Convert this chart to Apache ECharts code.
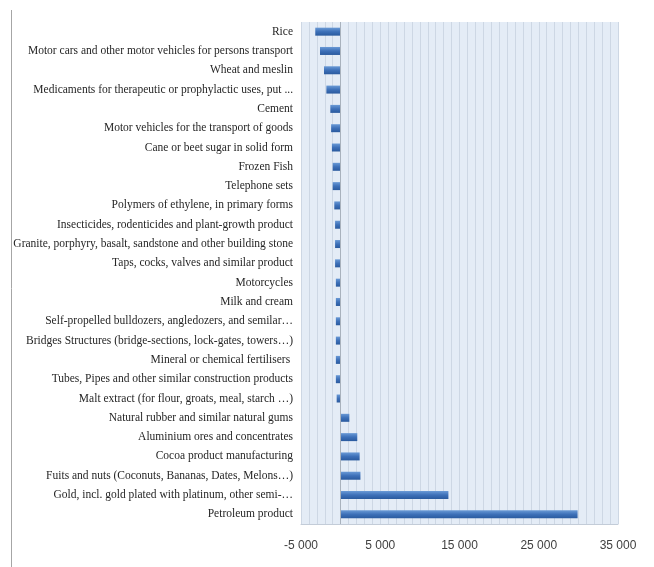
<!DOCTYPE html>
<html>
<head>
<meta charset="utf-8">
<script src="https://cdn.jsdelivr.net/npm/echarts@6/dist/echarts.min.js"></script>
<style>
  html, body { margin: 0; padding: 0; background: #ffffff; }
  #chart { width: 654px; height: 567px; }
</style>
</head>
<body>
<div id="chart"></div>
<script>
// Product categories, top to bottom
const categories = [
  "Rice",
  "Motor cars and other motor vehicles for persons transport",
  "Wheat and meslin",
  "Medicaments for therapeutic or prophylactic uses, put ...",
  "Cement",
  "Motor vehicles for the transport of goods",
  "Cane or beet sugar in solid form",
  "Frozen Fish",
  "Telephone sets",
  "Polymers of ethylene, in primary forms",
  "Insecticides, rodenticides and plant-growth product",
  "Granite, porphyry, basalt, sandstone and other building stone",
  "Taps, cocks, valves and similar product",
  "Motorcycles",
  "Milk and cream",
  "Self-propelled bulldozers, angledozers, and semilar…",
  "Bridges Structures (bridge-sections, lock-gates, towers…)",
  "Mineral or chemical fertilisers ",
  "Tubes, Pipes and other similar construction products",
  "Malt extract (for flour, groats, meal, starch …)",
  "Natural rubber and similar natural gums",
  "Aluminium ores and concentrates",
  "Cocoa product manufacturing",
  "Fuits and nuts (Coconuts, Bananas, Dates, Melons…)",
  "Gold, incl. gold plated with platinum, other semi-…",
  "Petroleum product"
];

// Trade balance per product
const balance = [
  -3200, -2600, -2100, -1800, -1300, -1200, -1100, -1000, -1000,
  -800, -700, -700, -700, -600, -600, -600, -600, -600, -600, -500,
  1100, 2100, 2400, 2500, 13600, 29900
];

// Value axis range and labelled ticks
const axisMin = -5000;
const axisMax = 35000;
const gridStep = 1000;
const tickLabels = [-5000, 5000, 15000, 25000, 35000];

function fmt(v) {
  const s = String(Math.abs(v)).replace(/\B(?=(\d{3})+(?!\d))/g, " ");
  return (v < 0 ? "-" : "") + s;
}

const chart = echarts.init(document.getElementById("chart"));
chart.setOption({
  animation: false,
  graphic: [
    {
      type: "line",
      shape: { x1: 11.5, y1: 10, x2: 11.5, y2: 567 },
      style: { stroke: "#a6a6a6", lineWidth: 1 }
    }
  ],
  grid: {
    left: 301, right: 36, top: 22, bottom: 43,
    show: true, backgroundColor: "#e4ecf6", borderWidth: 0
  },
  xAxis: {
    type: "value",
    min: axisMin, max: axisMax, interval: gridStep,
    axisLine: { show: true, lineStyle: { color: "#c3ccd8" } },
    axisTick: { show: false },
    splitLine: { show: true, lineStyle: { color: "#cdd7e4", width: 1 } },
    axisLabel: {
      margin: 16,
      color: "#404040",
      fontFamily: "Liberation Sans",
      fontSize: 12,
      showMinLabel: true, showMaxLabel: true,
      formatter: function (v) {
        return tickLabels.indexOf(v) >= 0 ? fmt(v) : "";
      }
    }
  },
  yAxis: {
    type: "category",
    data: categories,
    inverse: true,
    axisLine: { show: false },
    axisTick: { show: false },
    splitLine: { show: false },
    axisLabel: {
      margin: 8,
      color: "#262626",
      fontFamily: "Liberation Serif",
      fontSize: 11.5,
      interval: 0
    }
  },
  series: [{
    type: "bar",
    data: balance,
    barWidth: 8,
    itemStyle: {
      color: new echarts.graphic.LinearGradient(0, 0, 0, 1, [
        { offset: 0, color: "#6a9ad6" },
        { offset: 0.5, color: "#3d70b8" },
        { offset: 1, color: "#2a5a9e" }
      ])
    },
    markLine: {
      silent: true,
      symbol: "none",
      label: { show: false },
      lineStyle: { color: "#a9b2bd", type: "solid", width: 1 },
      data: [{ xAxis: 0 }]
    }
  }]
});
</script>
</body>
</html>
